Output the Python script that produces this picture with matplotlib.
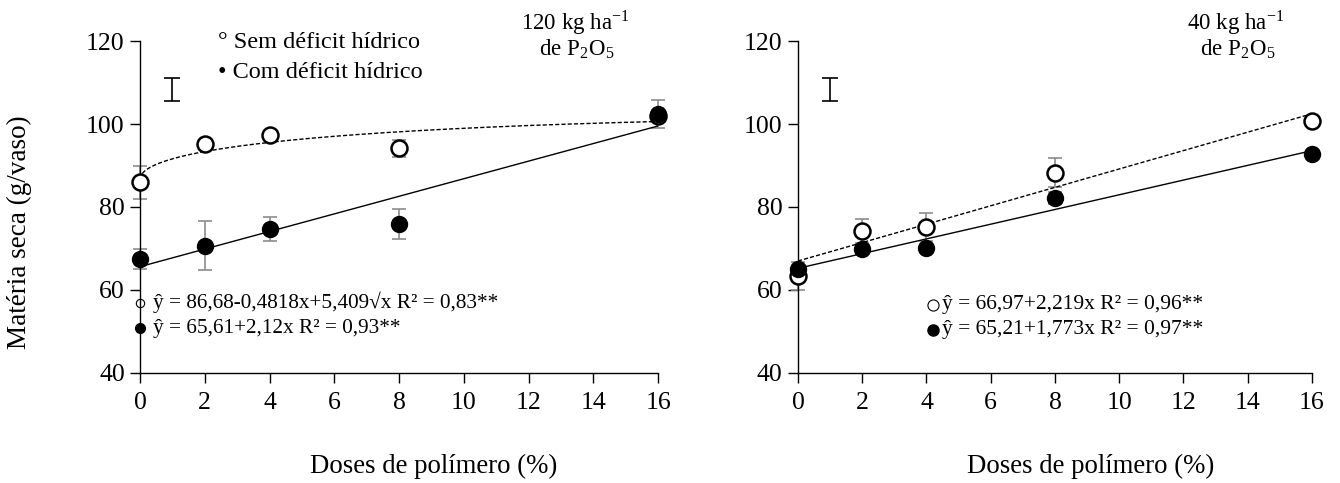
import numpy as np
import matplotlib
matplotlib.use("Agg")
import matplotlib.pyplot as plt

plt.rcParams['font.family'] = ['Liberation Serif', 'DejaVu Serif']
plt.rcParams['mathtext.fontset'] = 'stix'

doses = [0, 2, 4, 8, 16]

# 120 kg ha-1 P2O5
left_sem = [85.9, 95.1, 97.3, 94.1, 102.0]
left_sem_err = [4.0, 1.0, 0.8, 2.1, 0.8]
left_com = [67.5, 70.6, 74.7, 75.9, 102.4]
left_com_err = [2.4, 5.9, 3.0, 3.7, 3.4]

# 40 kg ha-1 P2O5
right_sem = [63.4, 74.2, 75.2, 88.2, 100.8]
right_sem_err = [3.4, 3.0, 3.3, 3.5, 0.7]
right_com = [65.0, 69.8, 70.2, 82.1, 92.8]
right_com_err = [0.6, 1.2, 0.6, 1.4, 0.5]

# regression coefficients
left_sem_fit = (86.68, -0.4818, 5.409)
left_com_fit = (65.61, 2.12)
right_sem_fit = (66.97, 2.219)
right_com_fit = (65.21, 1.773)

scale_bar = (1.0, 105.6, 111.2)

xticks = [0, 2, 4, 6, 8, 10, 12, 14, 16]
yticks = [40, 60, 80, 100, 120]

W, H = 1340, 483
fig = plt.figure(figsize=(13.4, 4.83), dpi=100)
axL = fig.add_axes([0.1045, 0.228, 0.3866, 0.687])
axR = fig.add_axes([0.5955, 0.228, 0.3836, 0.687])

xs = np.linspace(0, 16, 300)


def style(ax):
    ax.set_xlim(0, 16)
    ax.set_ylim(40, 120)
    ax.set_xticks(xticks)
    ax.set_yticks(yticks)
    for s in ['top', 'right']:
        ax.spines[s].set_visible(False)
    for s in ['left', 'bottom']:
        ax.spines[s].set_linewidth(1.0)
    ax.tick_params(axis='both', labelsize=18.5, length=7, width=1.0, direction='out')
    ax.tick_params(axis='x', pad=7)
    ax.tick_params(axis='y', pad=4)


def draw(ax, sem, sem_err, com, com_err):
    ax.errorbar(doses, sem, yerr=sem_err, fmt='none', ecolor='#8c8c8c', elinewidth=1.2,
                capsize=5, capthick=1.2, zorder=2, clip_on=False)
    ax.errorbar(doses, com, yerr=com_err, fmt='none', ecolor='#8c8c8c', elinewidth=1.2,
                capsize=5, capthick=1.2, zorder=2, clip_on=False)
    ax.plot(doses, sem, 'o', ms=11.5, mfc='white', mec='black', mew=1.8, zorder=4, clip_on=False)
    ax.plot(doses, com, 'o', ms=11.5, mfc='black', mec='black', zorder=5, clip_on=False)
    ax.errorbar([scale_bar[0]], [(scale_bar[1] + scale_bar[2]) / 2],
                yerr=[(scale_bar[2] - scale_bar[1]) / 2], fmt='none', ecolor='black',
                elinewidth=1.2, capsize=6, capthick=1.2)


# Left panel
style(axL)
a, b, c = left_sem_fit
axL.plot(xs, a + b * xs + c * np.sqrt(xs), color='black', lw=1.0, ls=(0, (3, 1.5)), zorder=3)
a2, b2 = left_com_fit
axL.plot(xs, a2 + b2 * xs, color='black', lw=1.0, zorder=3)
draw(axL, left_sem, left_sem_err, left_com, left_com_err)
axL.text(2.4, 119.6, '° Sem déficit hídrico', fontsize=17.5, va='center', ha='left')
axL.text(2.4, 112.4, '• Com déficit hídrico', fontsize=17.5, va='center', ha='left')
axL.plot([0.0], [0.212], 'o', ms=6, mfc='white', mec='black', mew=0.8, transform=axL.transAxes, clip_on=False)
axL.plot([0.0], [0.135], 'o', ms=7, mfc='black', mec='black', transform=axL.transAxes, clip_on=False)
axL.text(0.025, 0.212, 'ŷ = 86,68-0,4818x+5,409√x R² = 0,83**', transform=axL.transAxes,
         fontsize=15.3, va='center', ha='left')
axL.text(0.025, 0.135, 'ŷ = 65,61+2,12x R² = 0,93**', transform=axL.transAxes,
         fontsize=15.3, va='center', ha='left')

# Right panel
style(axR)
a, b = right_sem_fit
axR.plot(xs, a + b * xs, color='black', lw=1.0, ls=(0, (3, 1.5)), zorder=3)
a2, b2 = right_com_fit
axR.plot(xs, a2 + b2 * xs, color='black', lw=1.0, zorder=3)
draw(axR, right_sem, right_sem_err, right_com, right_com_err)
axR.plot([0.262], [0.205], 'o', ms=8, mfc='white', mec='black', mew=0.8, transform=axR.transAxes, clip_on=False)
axR.plot([0.262], [0.13], 'o', ms=8, mfc='black', mec='black', transform=axR.transAxes, clip_on=False)
axR.text(0.28, 0.205, 'ŷ = 66,97+2,219x R² = 0,96**', transform=axR.transAxes,
         fontsize=15.5, va='center', ha='left')
axR.text(0.28, 0.13, 'ŷ = 65,21+1,773x R² = 0,97**', transform=axR.transAxes,
         fontsize=15.5, va='center', ha='left')

# panel annotations
fig.text(575 / W, 1 - 23 / H, r'120 kg ha$^{\mathregular{-1}}$', fontsize=16.5, ha='center', va='center')
fig.text(577 / W, 1 - 48 / H, r'de P$_{\mathregular{2}}$O$_{\mathregular{5}}$', fontsize=16.5, ha='center', va='center')
fig.text(1236 / W, 1 - 23 / H, r'40 kg ha$^{\mathregular{-1}}$', fontsize=16.5, ha='center', va='center')
fig.text(1238 / W, 1 - 48 / H, r'de P$_{\mathregular{2}}$O$_{\mathregular{5}}$', fontsize=16.5, ha='center', va='center')

fig.text(19 / W, 1 - 232 / H, 'Matéria seca (g/vaso)', fontsize=19.5, rotation=90,
         ha='center', va='center')
fig.text(434 / W, 1 - 466 / H, 'Doses de polímero (%)', fontsize=19.3, ha='center', va='center')
fig.text(1091 / W, 1 - 466 / H, 'Doses de polímero (%)', fontsize=19.3, ha='center', va='center')

fig.savefig('out.png', dpi=100)
